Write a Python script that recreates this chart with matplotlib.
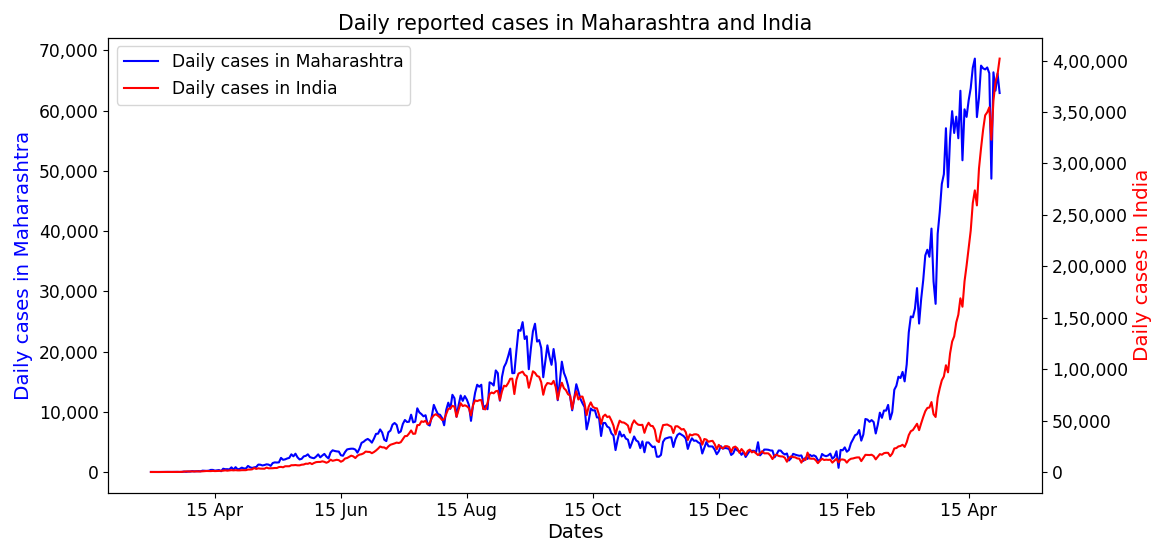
import matplotlib.pyplot as plt
import matplotlib.dates as mdates
import pandas as pd
from matplotlib.ticker import FuncFormatter

START_DATE = "2020-03-15"

# daily new cases, one row per month (Mar 2020 starts on the 15th)
maharashtra_cases = [
    12, 6, 3, 4, 4, 12, 12, 10, 23, 10, 15, 23, 28, 25, 10, 17, 82,
    33, 88, 81, 145, 113, 120, 150, 117, 229, 210, 187, 221, 352, 350, 232, 286, 328, 134, 552, 466, 472, 431, 778, 394, 811, 440, 522, 729, 597, 583,
    1008, 790, 678, 771, 841, 1233, 1216, 1089, 1165, 1278, 1230, 1026, 1495, 1602, 1576, 1606, 2347, 2033, 2100, 2250, 2345, 2940, 2608, 3041, 2436, 2091, 2190, 2598, 2682, 2940, 2487,
    2361, 2287, 2560, 2933, 2436, 2739, 3007, 2553, 2259, 3254, 3607, 3493, 3427, 3390, 2786, 2701, 3307, 3752, 3827, 3874, 3870, 3721, 3214, 3890, 4841, 5024, 5318, 5493, 5257, 4878,
    5537, 6330, 6364, 7074, 6555, 5368, 5134, 6603, 6875, 7862, 8139, 7827, 6497, 6741, 7975, 8641, 8308, 8348, 9518, 8240, 8369, 10576, 9895, 9615, 9251, 9431, 7924, 7717, 9211, 11147, 10320,
    9601, 9509, 8968, 7760, 10309, 11514, 10483, 12822, 12248, 9181, 11088, 12712, 11813, 12608, 12020, 11111, 8493, 11119, 13165, 14492, 14161, 14492, 10441, 11015, 10425, 14888, 14718, 14361, 16867, 16408, 11852,
    15765, 17433, 18105, 19218, 20489, 16408, 16429, 20131, 23577, 23446, 24886, 22084, 22543, 17066, 20482, 23365, 24619, 21656, 21907, 20598, 15738, 18390, 21029, 19164, 17794, 20419, 18056, 11921, 14976, 18317,
    16476, 15591, 14348, 12548, 10244, 12258, 14578, 13395, 12134, 11416, 10792, 7089, 8522, 10552, 10226, 10259, 9060, 9060, 5984, 8151, 8142, 7539, 7347, 6417, 6059, 3645, 5363, 6738, 5902, 6190, 5548,
    5369, 4009, 4909, 5902, 5246, 5027, 3959, 5092, 3277, 4907, 4907, 4496, 4132, 4237, 2544, 2535, 2840, 5011, 5535, 5640, 5760, 5753, 4153, 5439, 6159, 6406, 6185, 5965, 5544, 3837,
    4930, 5600, 5182, 5229, 4922, 4757, 3075, 4026, 4981, 4268, 4259, 4235, 3717, 2949, 3442, 4304, 3880, 3994, 3940, 3811, 2834, 3106, 3913, 3580, 3431, 2854, 3314, 2498, 3018, 3537, 3509,
    3524, 3218, 4950, 2765, 3160, 3729, 3729, 3693, 3581, 3558, 2438, 2936, 3579, 3556, 3145, 2910, 3081, 1924, 2294, 3015, 2886, 2779, 2697, 2752, 1842, 2405, 2171, 2889, 2630, 2771, 2585,
    1948, 1927, 2992, 2736, 2628, 2768, 3051, 2216, 2515, 3451, 700, 3670, 3611, 4092, 3365, 3663, 4787, 5427, 6112, 6281, 6971, 5210, 6218, 8807, 8702, 8333, 8623, 8293,
    6397, 7863, 9855, 8998, 10216, 10187, 11141, 8744, 9927, 13659, 14317, 15817, 15602, 16620, 15051, 17864, 23179, 25833, 25681, 27126, 30535, 24645, 28699, 31855, 35952, 36902, 35726, 40414, 31643, 27918, 39544,
    43183, 47827, 49447, 57074, 47288, 55469, 59907, 56286, 58993, 55411, 63294, 51751, 60212, 58952, 61695, 63729, 67123, 68631, 58924, 62097, 67468, 67013, 66836, 67160, 66191, 48700, 66358, 63309, 66159, 62919,
]

india_cases = [
    10, 15, 12, 20, 30, 50, 80, 90, 100, 75, 90, 150, 150, 180, 100, 230, 300,
    600, 500, 550, 600, 500, 700, 550, 600, 700, 900, 1000, 900, 900, 1100, 900, 1000, 1000, 1200, 1300, 1600, 1300, 1500, 1800, 1600, 1800, 1600, 1600, 1800, 1800, 1800,
    2400, 2400, 2600, 3900, 3000, 3600, 3300, 3300, 3200, 4300, 3600, 3600, 3700, 3900, 3900, 4800, 5000, 4600, 5600, 5600, 5600, 6600, 6600, 6800, 6500, 6500, 7100, 7300, 8100, 8000, 8800,
    7700, 8800, 9600, 9800, 9800, 10400, 9900, 9000, 9900, 12000, 10900, 11400, 11900, 11500, 10000, 11000, 13100, 13600, 14700, 15900, 15200, 13600, 15800, 16900, 17300, 18200, 19900, 19600, 19500, 18300,
    19400, 20900, 22700, 24800, 24000, 23900, 22600, 24900, 26500, 27100, 27800, 28600, 28200, 29000, 31900, 34900, 35000, 37400, 40400, 37100, 37300, 45600, 45700, 49300, 48700, 49900, 46500, 47700, 52500, 55100, 56200,
    54700, 53000, 50600, 51200, 56300, 61500, 61900, 64400, 63500, 53600, 60600, 66900, 64100, 64900, 64000, 62000, 55000, 65000, 69700, 68900, 69800, 70000, 61400, 60900, 67100, 75800, 77300, 76500, 78500, 79000, 69900,
    78400, 83900, 83300, 86400, 90600, 90800, 75800, 89700, 95700, 96600, 97600, 94400, 93200, 81900, 90100, 97900, 96400, 93400, 92600, 87400, 75100, 83300, 86500, 86100, 85400, 88600, 82800, 70600, 80500, 86800,
    81500, 79500, 75600, 74400, 61300, 72000, 78500, 70500, 73300, 73300, 66700, 55300, 63500, 67700, 63400, 62200, 61900, 55700, 46800, 54000, 55800, 53400, 54100, 50100, 45100, 36500, 43900, 49900, 48300, 48100, 46900,
    45200, 38300, 46300, 50200, 47600, 46000, 45700, 45900, 38100, 44300, 47900, 44900, 44700, 41100, 30500, 29100, 38600, 45600, 45900, 46200, 45200, 44100, 37900, 44400, 44500, 43100, 41300, 41800, 38800, 31100,
    36600, 35600, 36600, 36700, 36000, 32900, 26600, 32100, 31500, 29400, 30000, 30300, 27100, 22100, 26400, 24000, 22900, 25100, 25100, 24300, 19500, 23900, 24700, 23000, 18700, 22300, 20000, 16400, 20500, 21800, 19100,
    20000, 18200, 16500, 18100, 20300, 18100, 18200, 18100, 16000, 12600, 15900, 16900, 15600, 15200, 15100, 13800, 10000, 13800, 15200, 14500, 14300, 13200, 13000, 9100, 12700, 11700, 18900, 13100, 12900, 13000, 11400,
    8600, 11000, 12900, 11700, 12000, 11800, 12000, 9100, 11000, 12900, 9300, 12100, 12200, 11700, 9100, 11600, 12900, 13200, 13800, 14200, 14200, 10600, 13700, 16700, 16600, 16500, 16800, 15500,
    12300, 14900, 17400, 16800, 18300, 18700, 18600, 15400, 17900, 22900, 23300, 24900, 25300, 26500, 24400, 28900, 35900, 39700, 40800, 43800, 46900, 40700, 47300, 53500, 59100, 62300, 62700, 68000, 56200, 53500, 72300,
    81400, 89100, 92900, 103800, 96900, 115300, 126800, 131900, 145400, 152900, 168900, 160700, 185300, 200700, 217300, 234700, 261500, 273800, 259200, 295000, 314800, 332700, 346800, 349700, 354500, 323000, 360900, 379300, 386800, 401900,
]

dates = pd.date_range(START_DATE, periods=len(india_cases), freq="D")


def indian_commas(x, pos):
    n = int(round(x))
    s = str(abs(n))
    if len(s) > 3:
        head, tail = s[:-3], s[-3:]
        groups = []
        while len(head) > 2:
            groups.insert(0, head[-2:])
            head = head[:-2]
        if head:
            groups.insert(0, head)
        s = ",".join(groups + [tail])
    return ("-" if n < 0 else "") + s


fig = plt.figure(figsize=(11.54, 5.42), dpi=100)
ax1 = fig.add_axes([0.094, 0.091, 0.809, 0.839])
ax2 = ax1.twinx()

l1, = ax1.plot(dates, maharashtra_cases, color="blue", lw=1.5, label="Daily cases in Maharashtra")
l2, = ax2.plot(dates, india_cases, color="red", lw=1.5, label="Daily cases in India")

ax1.set_ylabel("Daily cases in Maharashtra", color="blue", fontsize=14.3)
ax2.set_ylabel("Daily cases in India", color="red", fontsize=14.3)
ax1.set_xlabel("Dates", fontsize=14, labelpad=2)
ax1.set_title("Daily reported cases in Maharashtra and India", fontsize=14.8)

ax1.yaxis.set_major_formatter(FuncFormatter(lambda x, p: f"{x:,.0f}"))
ax2.yaxis.set_major_formatter(FuncFormatter(indian_commas))
ax2.set_yticks(range(0, 400001, 50000))

ax1.xaxis.set_major_locator(mdates.MonthLocator(bymonth=[2, 4, 6, 8, 10, 12], bymonthday=15))
ax1.xaxis.set_major_formatter(mdates.DateFormatter("%d %b"))
ax1.tick_params(labelsize=12.3)
ax2.tick_params(labelsize=12.3)

ax1.legend(handles=[l1, l2], loc="upper left", fontsize=12.3)

fig.savefig("out.png")
